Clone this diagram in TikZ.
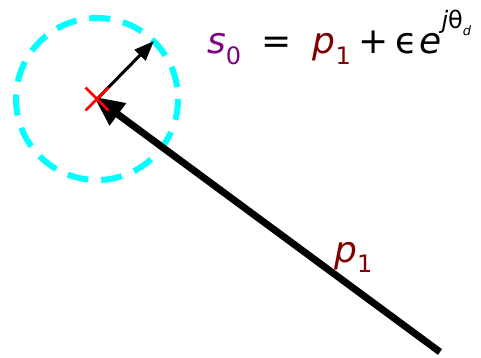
\documentclass[tikz,border=0pt]{standalone}
\usepackage{fontspec}
\setmainfont{DejaVu Sans}
\usetikzlibrary{arrows.meta, positioning, shapes.misc}

\definecolor{svio}{RGB}{128,0,128}
\definecolor{pred}{RGB}{128,0,0}
\definecolor{ring}{RGB}{0,255,255}
\newcommand{\lowidx}[1]{\raisebox{-0.28em}{\fontsize{24}{26}\selectfont\upshape #1}}
\newcommand{\highidx}[1]{\raisebox{0.7em}{\fontsize{24}{26}\selectfont #1}}

\begin{document}
\begin{tikzpicture}[
    x=1pt, y=-1pt,
    pole/.style={cross out, draw=red, line width=2.8pt, minimum size=20pt, inner sep=0pt},
    region/.style={draw=ring, line width=6pt, dash pattern=on 21pt off 13pt},
    vecbig/.style={-{Triangle[length=30pt, width=26pt]}, line width=7pt, shorten >=-4pt},
    vecsmall/.style={-{Triangle[length=20pt, width=15pt]}, line width=3pt},
    font=\fontsize{36}{40}\selectfont
]
\useasboundingbox (0,0) rectangle (481,358);

% neighbourhood of the pole
\coordinate (p0) at (97,99);
\draw[region] (p0) circle (81);

% vectors
\coordinate (tail) at (440,352);
\coordinate (rim) at (154,41);
\draw[vecbig] (tail) -- (p0);
\draw[vecsmall] (p0) -- (rim);

% pole marker on top
\node[pole] (p1) at (p0) {};

% labels
\node[anchor=base west, inner sep=0pt] (eq) at (207,54) {%
    {\color{svio}\itshape s\lowidx{0}}\hspace{0.55em}=\hspace{0.6em}%
    {\color{pred}\itshape p\lowidx{1}}\hspace{0.2em}+\hspace{0.2em}ϵ\hspace{0.05em}\itshape e\highidx{j\upshape θ\lowidx{\fontsize{13}{14}\selectfont\itshape d}}};
\node[anchor=base west, inner sep=0pt, text=pred] (lbl) at (334,262) {\itshape p\lowidx{1}};

\end{tikzpicture}
\end{document}
